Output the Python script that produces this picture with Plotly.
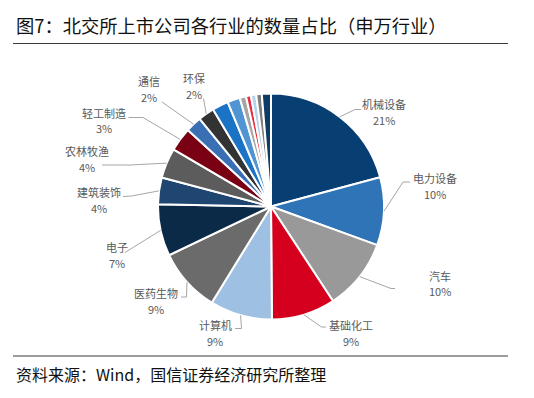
import math
import plotly.graph_objects as go

W, H = 534, 398

# ---- data ----
industries = ["机械设备", "电力设备", "汽车", "基础化工", "计算机", "医药生物", "电子",
              "建筑装饰", "农林牧渔", "轻工制造", "通信", "环保",
              "其他1", "其他2", "其他3", "其他4", "其他5", "其他6", "其他7"]
shares = [20.8, 9.7, 10.2, 9.1, 8.9, 9.1, 7.4,
          3.8, 4.3, 3.4, 2.3, 2.3,
          2.3, 1.8, 0.9, 0.7, 0.75, 0.8, 1.3]

# ---- style ----
colors = ["#083f72", "#2e74b6", "#999999", "#d4001e", "#9dc0e3", "#6b6b6b", "#0b2a47",
          "#1f4670", "#5c5c5c", "#7a0013", "#3a6fb4", "#333333",
          "#1b73c6", "#5094d4", "#a6a6a6", "#e62e3d", "#b7d2ee", "#7f7f7f", "#0e3a66"]

cx, cy, R = 271, 206.5, 113  # pie centre / radius in pixels
dom_x = [(cx - R) / W, (cx + R) / W]
dom_y = [(H - cy - R) / H, (H - cy + R) / H]

def px(x):
    return x / W

def py(y):
    return 1 - y / H

fig = go.Figure(go.Pie(
    labels=industries, values=shares, sort=False, direction="clockwise", rotation=0,
    textinfo="none", hoverinfo="label+percent",
    marker=dict(colors=colors, line=dict(color="white", width=2)),
    domain=dict(x=dom_x, y=dom_y), showlegend=False,
))

# label layout: (elbow point, end point, text centre) in pixels
label_layout = {
    "机械设备": ((355, 109.5), (361, 109.5), (384, 112)),
    "电力设备": ((403, 182), (410, 182), (435, 186)),
    "汽车": ((391, 288.5), (395, 288.5), (440, 283.5)),
    "基础化工": ((321.5, 327), (326, 327), (351, 333)),
    "计算机": ((241.5, 328.5), (235, 328.5), (215, 333)),
    "医药生物": ((186.5, 297), (181, 297), (156, 301)),
    "电子": ((125, 252.5), (125, 252.5), (117, 255)),
    "建筑装饰": ((131.5, 196), (123, 196.5), (99, 200)),
    "农林牧渔": ((130, 165), (102, 165), (86.5, 158.7)),
    "轻工制造": ((143, 117.5), (128.5, 117.5), (104, 120.5)),
    "通信": ((162, 102), (162, 102), (148.5, 88.7)),
    "环保": ((203.5, 98.5), (203.5, 98.5), (193.5, 85.8)),
}

total = sum(shares)
cum = 0.0
shapes = []
annotations = []
lab_font = dict(size=11, color="#595959")
for name, v in zip(industries, shares):
    mid = (cum + v / 2) / total * 2 * math.pi
    cum += v
    if name not in label_layout:
        continue
    sx = cx + R * math.sin(mid)
    sy = cy - R * math.cos(mid)
    (ex, ey), (tx, ty), (lx, ly) = label_layout[name]
    path = f"M {px(sx)},{py(sy)} L {px(ex)},{py(ey)} L {px(tx)},{py(ty)}"
    shapes.append(dict(type="path", xref="paper", yref="paper", path=path,
                       line=dict(color="#a6a6a6", width=1)))
    pct = round(v / total * 100)
    annotations.append(dict(x=px(lx), y=py(ly - 7.8), xref="paper", yref="paper",
                            text=name, showarrow=False, xanchor="center",
                            yanchor="middle", borderpad=0, font=lab_font))
    annotations.append(dict(x=px(lx), y=py(ly + 7.8), xref="paper", yref="paper",
                            text=f"{pct}%", showarrow=False, xanchor="center",
                            yanchor="middle", borderpad=0, font=lab_font))

# rules
for yy in (43.5, 356):
    shapes.append(dict(type="line", xref="paper", yref="paper",
                       x0=px(13), x1=px(508), y0=py(yy), y1=py(yy),
                       line=dict(color="#3a3a3a", width=1.2)))

annotations.append(dict(x=px(14), y=py(25), xref="paper", yref="paper",
                        text="图7：北交所上市公司各行业的数量占比（申万行业）",
                        showarrow=False, xanchor="left", yanchor="middle",
                        font=dict(size=18.3, color="#111111")))
annotations.append(dict(x=px(14), y=py(373.5), xref="paper", yref="paper",
                        text="资料来源：Wind，国信证券经济研究所整理",
                        showarrow=False, xanchor="left", yanchor="middle",
                        font=dict(size=16, color="#111111")))

fig.update_layout(
    width=W, height=H, margin=dict(l=0, r=0, t=0, b=0),
    paper_bgcolor="white", plot_bgcolor="white",
    font=dict(family="Noto Sans CJK SC, Noto Sans, sans-serif"),
    shapes=shapes, annotations=annotations,
)

fig.write_html("out.html", config={"displayModeBar": False},
               post_script="document.body.style.margin='0px';document.body.style.padding='0px';")
